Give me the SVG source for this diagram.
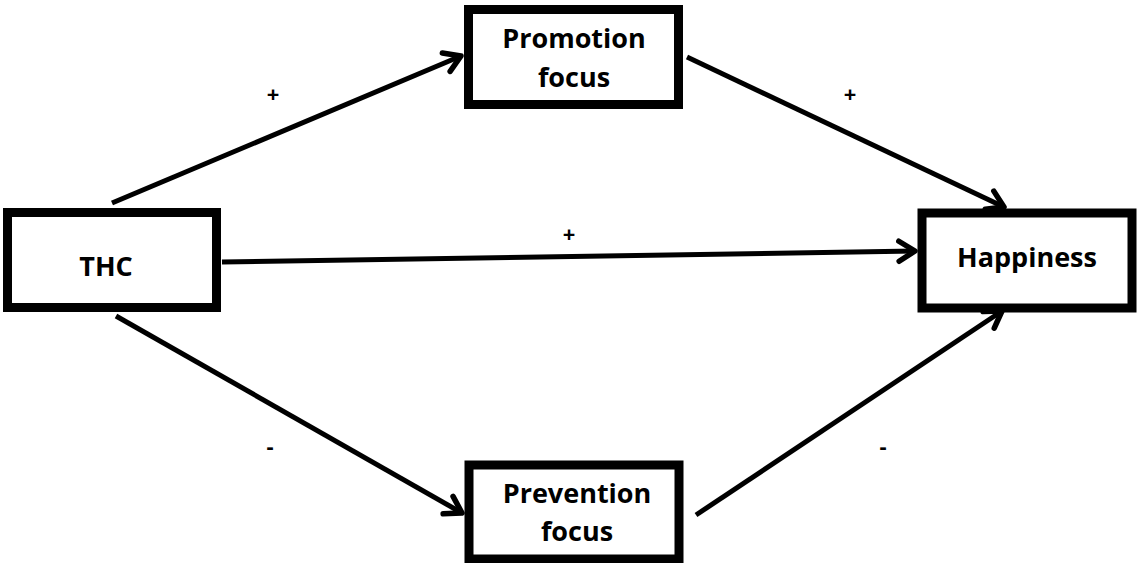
<svg xmlns="http://www.w3.org/2000/svg" width="1137" height="563" viewBox="0 0 1137 563">
<style>
.box{fill:#fff;stroke:#000;stroke-width:9}
.lbl{font-family:"Open Sans","Noto Sans","Liberation Sans",sans-serif;font-weight:700;font-size:27px;fill:#000;text-anchor:middle}
.sign{font-family:"Open Sans","Noto Sans","Liberation Sans",sans-serif;font-weight:700;font-size:22px;fill:#000;text-anchor:middle}
.conn{stroke:#000;stroke-width:5;fill:none;marker-end:url(#arr)}
</style>
<defs>
<marker id="arr" markerUnits="userSpaceOnUse" orient="auto" refX="0" refY="0" markerWidth="40" markerHeight="40" viewBox="-30 -20 40 40" overflow="visible">
<path d="M -16 -10 L 0 0 L -16 10" fill="none" stroke="#000" stroke-width="5.5" stroke-linecap="round" stroke-linejoin="round"/>
</marker>
</defs>
<rect width="1137" height="563" fill="#fff"/>
<g id="connectors">
<line class="conn" x1="112" y1="203" x2="461" y2="56"/>
<line class="conn" x1="687" y1="57" x2="1004" y2="207"/>
<line class="conn" x1="222" y1="262" x2="915" y2="251"/>
<line class="conn" x1="116" y1="316" x2="462" y2="513"/>
<line class="conn" x1="696" y1="515" x2="1002" y2="311"/>
</g>
<g id="labels">
<text class="sign" x="273" y="102">+</text>
<text class="sign" x="850" y="102">+</text>
<text class="sign" x="569" y="242">+</text>
<text class="sign" x="270" y="454">-</text>
<text class="sign" x="883" y="454">-</text>
</g>
<g id="thc">
<rect class="box" x="7.5" y="212.5" width="209" height="95"/>
<text class="lbl" x="106" y="276">THC</text>
</g>
<g id="promotion">
<rect class="box" x="468.5" y="9.5" width="210" height="95"/>
<text class="lbl" x="574" y="48">Promotion</text>
<text class="lbl" x="574" y="87">focus</text>
</g>
<g id="happiness">
<rect class="box" x="922" y="213" width="210" height="95"/>
<text class="lbl" x="1027" y="267">Happiness</text>
</g>
<g id="prevention">
<rect class="box" x="469" y="465" width="210" height="94"/>
<text class="lbl" x="577" y="503">Prevention</text>
<text class="lbl" x="577" y="541">focus</text>
</g>
</svg>
